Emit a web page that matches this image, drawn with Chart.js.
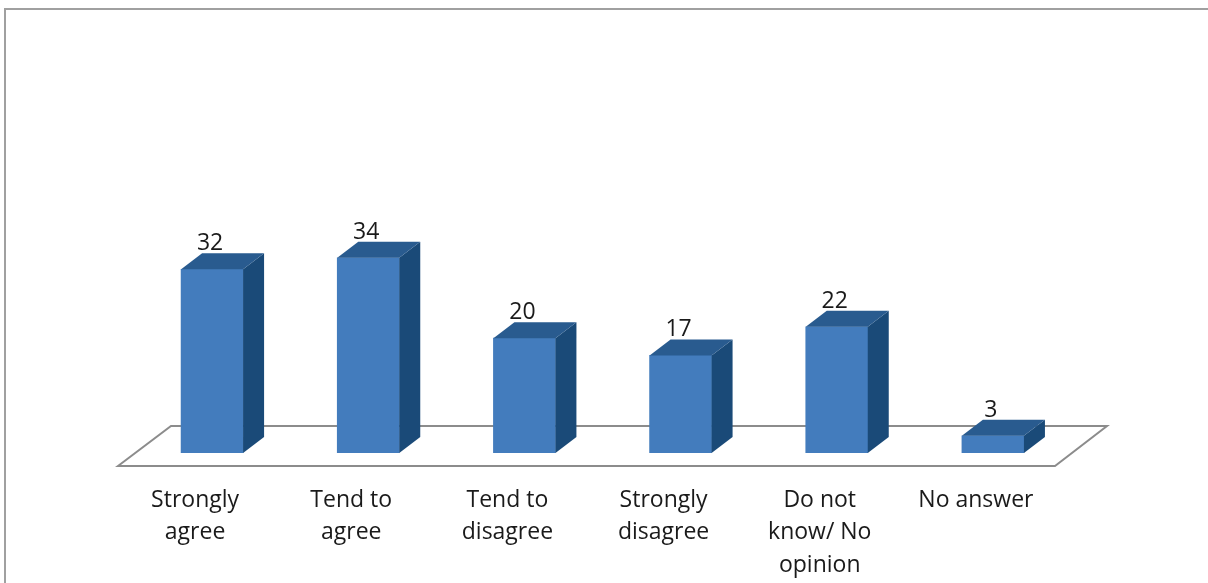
<!DOCTYPE html>
<html lang="en">
<head>
    <meta charset="UTF-8">
    <title>Survey responses</title>
    <script src="https://cdn.jsdelivr.net/npm/chart.js"></script>
    <style>
        html, body { margin: 0; padding: 0; background: #fff; overflow: hidden; }
    </style>
</head>
<body>
    <canvas id="chart" width="1208" height="583"></canvas>
    <script>
        const categories = [
            ["Strongly", "agree"],
            ["Tend to", "agree"],
            ["Tend to", "disagree"],
            ["Strongly", "disagree"],
            ["Do not", "know/ No", "opinion"],
            ["No answer"]
        ];
        const responses = [32, 34, 20, 17, 22, 3];

        const FRONT = "#437cbd";
        const TOP = "#295b8f";
        const SIDE = "#1a4a78";
        const DX = 21, DY = 16;
        const FONT = "'Open Sans', sans-serif";

        // frame around the picture
        const framePlugin = {
            id: "frame",
            beforeDraw(chart) {
                const c = chart.ctx;
                c.save();
                c.strokeStyle = "#a0a0a0";
                c.lineWidth = 2;
                c.beginPath();
                c.moveTo(5, chart.height);
                c.lineTo(5, 9);
                c.lineTo(chart.width, 9);
                c.stroke();
                c.restore();
            }
        };

        // 3d floor under the bars
        const floorPlugin = {
            id: "floor",
            beforeDatasetsDraw(chart) {
                const c = chart.ctx;
                const a = chart.chartArea;
                const z = chart.scales.y.getPixelForValue(0);
                const front = z + 13, back = z - 27;
                c.save();
                c.fillStyle = "#fff";
                c.strokeStyle = "#8c8c8c";
                c.lineWidth = 2;
                c.beginPath();
                c.moveTo(a.left - 16, front);
                c.lineTo(a.left + 37, back);
                c.lineTo(a.right + 36, back);
                c.lineTo(a.right - 16, front);
                c.closePath();
                c.fill();
                c.stroke();
                c.restore();
            }
        };

        // side and top faces, plus value labels
        const boxPlugin = {
            id: "box",
            afterDatasetsDraw(chart) {
                const c = chart.ctx;
                const meta = chart.getDatasetMeta(0);
                c.save();
                meta.data.forEach((bar, i) => {
                    const w = bar.width;
                    const l = bar.x - w / 2, r = bar.x + w / 2;
                    const t = bar.y, b = bar.base;

                    c.fillStyle = SIDE;
                    c.beginPath();
                    c.moveTo(r, t);
                    c.lineTo(r + DX, t - DY);
                    c.lineTo(r + DX, b - DY);
                    c.lineTo(r, b);
                    c.closePath();
                    c.fill();

                    c.fillStyle = TOP;
                    c.beginPath();
                    c.moveTo(l, t);
                    c.lineTo(l + DX, t - DY);
                    c.lineTo(r + DX, t - DY);
                    c.lineTo(r, t);
                    c.closePath();
                    c.fill();

                    c.fillStyle = "#1a1a1a";
                    c.font = "23px " + FONT;
                    c.textAlign = "center";
                    c.textBaseline = "alphabetic";
                    c.fillText(String(responses[i]), bar.x - 2, t - DY - 3);
                });
                c.restore();
            }
        };

        new Chart(document.getElementById("chart"), {
            type: "bar",
            data: {
                labels: categories,
                datasets: [{
                    data: responses,
                    backgroundColor: FRONT,
                    borderWidth: 0,
                    barThickness: 62
                }]
            },
            options: {
                responsive: false,
                animation: false,
                layout: { padding: { left: 134, right: 137, top: 166, bottom: 0 } },
                plugins: { legend: { display: false }, tooltip: { enabled: false } },
                scales: {
                    x: {
                        grid: { display: false, drawTicks: false },
                        border: { display: false },
                        afterFit: (scale) => { scale.height = 130; },
                        ticks: {
                            color: "#1a1a1a",
                            font: { family: FONT, size: 23, lineHeight: 1.413 },
                            padding: 31,
                            labelOffset: -17,
                            maxRotation: 0,
                            autoSkip: false
                        }
                    },
                    y: {
                        display: false,
                        min: 0,
                        max: 50
                    }
                }
            },
            plugins: [framePlugin, floorPlugin, boxPlugin]
        });
    </script>
</body>
</html>
